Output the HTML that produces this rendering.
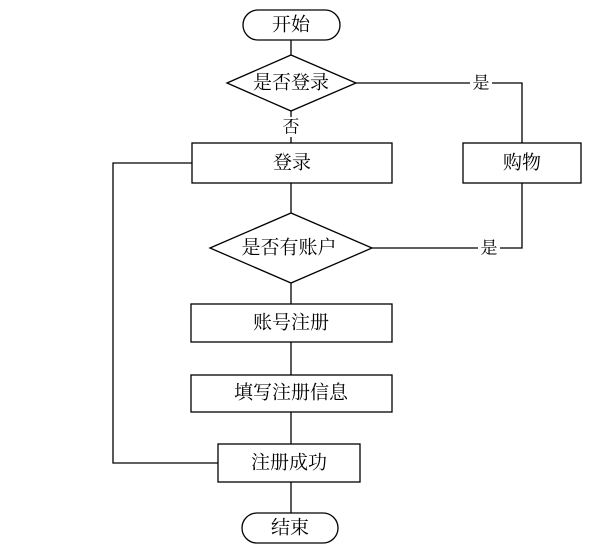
<!DOCTYPE html>
<html><head><meta charset="utf-8"><style>
html,body{margin:0;padding:0;background:#fff;}
svg text{font-family:"Liberation Serif","Noto Serif CJK SC",serif;fill:#000;text-anchor:middle;dominant-baseline:central;}
</style></head><body>
<svg width="609" height="551" viewBox="0 0 609 551" xmlns="http://www.w3.org/2000/svg">
<g stroke="#000" stroke-width="1.3" fill="none">
<!-- main vertical connectors -->
<line x1="291" y1="40" x2="291" y2="55"/>
<line x1="291" y1="111" x2="291" y2="117"/>
<line x1="291" y1="137" x2="291" y2="143"/>
<line x1="291" y1="183" x2="291" y2="213"/>
<line x1="291" y1="283" x2="291" y2="304"/>
<line x1="291" y1="342" x2="291" y2="375"/>
<line x1="291" y1="412" x2="291" y2="444"/>
<line x1="291" y1="482" x2="291" y2="513"/>
<!-- right branch -->
<polyline points="356,83 470,83"/>
<polyline points="492,83 522,83 522,143"/>
<polyline points="522,183 522,248 500,248"/>
<line x1="372" y1="248" x2="478" y2="248"/>
<!-- left loop -->
<polyline points="192,163 113,163 113,463 218,463"/>
<!-- shapes -->
<rect x="243" y="10" width="97" height="30" rx="15" fill="#fff"/>
<polygon points="227,83 291,55 356,83 291,111" fill="#fff"/>
<rect x="192" y="143" width="200" height="40" fill="#fff"/>
<rect x="463" y="143" width="118" height="40" fill="#fff"/>
<polygon points="210,248 291,213 372,248 291,283" fill="#fff"/>
<rect x="191" y="304" width="201" height="38" fill="#fff"/>
<rect x="191" y="375" width="201" height="37" fill="#fff"/>
<rect x="218" y="444" width="142" height="38" fill="#fff"/>
<rect x="242" y="513" width="96" height="30" rx="15" fill="#fff"/>
</g>
<g font-size="19">
<text x="291" y="25">开始</text>
<text x="291" y="83">是否登录</text>
<text x="291" y="127" font-size="17">否</text>
<text x="481" y="83" font-size="17">是</text>
<text x="292" y="163">登录</text>
<text x="522" y="163">购物</text>
<text x="289" y="248">是否有账户</text>
<text x="489" y="248" font-size="17">是</text>
<text x="291" y="323">账号注册</text>
<text x="291" y="393">填写注册信息</text>
<text x="289" y="463">注册成功</text>
<text x="290" y="528">结束</text>
</g>
</svg>
</body></html>
